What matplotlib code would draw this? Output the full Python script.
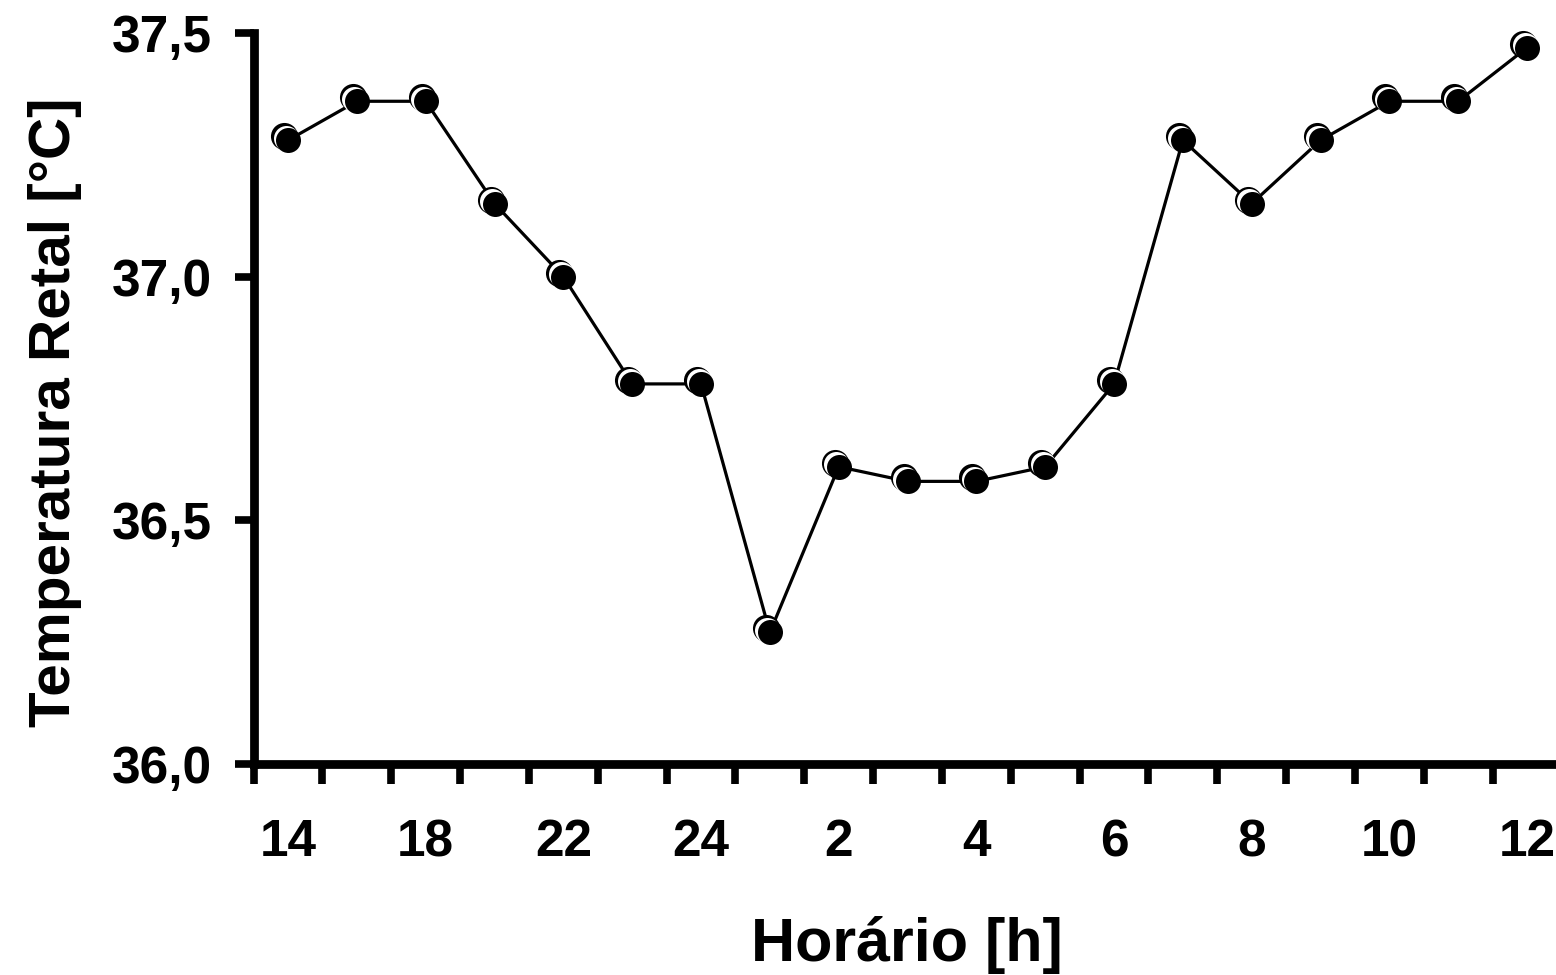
import matplotlib
matplotlib.use('Agg')
import matplotlib.pyplot as plt
from matplotlib.transforms import offset_copy
import numpy as np

plt.rcParams['font.family'] = 'Liberation Sans'
plt.rcParams['font.weight'] = 'bold'

# temperatura retal ao longo do dia
hours = ['14', '16', '18', '20', '22', '23', '24', '1', '2', '3',
         '4', '5', '6', '7', '8', '9', '10', '11', '12']
temp = [37.28, 37.36, 37.36, 37.15, 37.00, 36.78, 36.78, 36.27, 36.61, 36.58,
        36.58, 36.61, 36.78, 37.28, 37.15, 37.28, 37.36, 37.36, 37.47]
yticks = [36.0, 36.5, 37.0, 37.5]
ytick_labels = ['36,0', '36,5', '37,0', '37,5']

fig = plt.figure(figsize=(15.56, 9.75), dpi=100)
ax = fig.add_axes([0.163, 0.2164, 0.8405, 0.7497])

x = np.arange(len(temp))
ax.plot(x, temp, color='black', lw=2.3, zorder=2, clip_on=False)

# marcador com sombreado: contorno deslocado, brilho branco, disco preto
shadow = offset_copy(ax.transData, fig=fig, x=-4, y=4, units='dots')
shine = offset_copy(ax.transData, fig=fig, x=-2.5, y=2.5, units='dots')
ax.plot(x, temp, 'o', ms=19.5, color='black', mew=0, transform=shadow, zorder=3, clip_on=False)
ax.plot(x, temp, 'o', ms=18, color='white', mew=0, transform=shine, zorder=4, clip_on=False)
ax.plot(x, temp, 'o', ms=18, color='black', mew=0, zorder=5, clip_on=False)

ax.set_xlim(-0.5, len(temp) - 0.5)
ax.set_ylim(36.0, 37.5)

ax.set_xticks(np.arange(len(temp) + 1) - 0.5)
ax.set_xticklabels([])
ax.set_xticks(x[::2], [hours[i] for i in x[::2]], minor=True)
ax.tick_params(axis='x', which='major', length=14.5, width=5.5, direction='out')
ax.tick_params(axis='x', which='minor', length=0, pad=39, labelsize=37)

ax.set_yticks(yticks, ytick_labels)
ax.tick_params(axis='y', length=14, width=5.5, pad=16, labelsize=37)

for s in ['top', 'right']:
    ax.spines[s].set_visible(False)
for s in ['left', 'bottom']:
    ax.spines[s].set_linewidth(6.3)

fig.text(70 / 1556, 1 - 412 / 975, 'Temperatura Retal [°C]', rotation=90,
         rotation_mode='anchor', ha='center', va='baseline', fontsize=42, fontweight='bold')
fig.text(907 / 1556, 1 - 961 / 975, 'Horário [h]', ha='center', va='baseline',
         fontsize=44, fontweight='bold')

fig.savefig('out.png', dpi=100)
